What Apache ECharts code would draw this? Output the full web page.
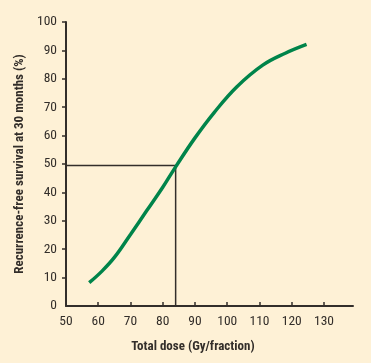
<!DOCTYPE html>
<html><head><meta charset="utf-8">
<script src="https://cdn.jsdelivr.net/npm/echarts@6/dist/echarts.min.js"></script>
<style>html,body{margin:0;padding:0;background:#FEF1D6;}#c{width:371px;height:363px;}</style>
</head><body><div id="c"></div>
<script>
const doseValues = [57.2, 61, 65, 70, 75, 80, 84, 90, 96, 103, 111, 118, 124.6];
const survivalValues = [8.2, 12.1, 17.1, 25.2, 33.5, 41.8, 49, 59.2, 68.2, 77.2, 84.8, 89, 92.1];
const refLineX = [50, 84, 84];
const refLineY = [49.5, 49.5, 0];
const xTickLabels = [50, 60, 70, 80, 90, 100, 110, 120, 130];
const yTickLabels = [0, 10, 20, 30, 40, 50, 60, 70, 80, 90, 100];

const font = '"Roboto Condensed","DejaVu Sans Condensed",sans-serif';
const dark = '#332e2a';
const chart = echarts.init(document.getElementById('c'), null, {renderer: 'canvas'});
chart.setOption({
  backgroundColor: '#FEF1D6',
  animation: false,
  grid: {left: 66, right: 18, top: 22, bottom: 57},
  xAxis: {
    type: 'value', min: 50, max: 139,
    axisLine: {lineStyle: {color: dark, width: 2}},
    axisTick: {inside: true, length: 4, lineStyle: {color: dark, width: 1.5}, customValues: xTickLabels.slice(1)},
    axisLabel: {color: dark, fontFamily: font, fontSize: 13.5, margin: 9, customValues: xTickLabels},
    splitLine: {show: false}
  },
  yAxis: {
    type: 'value', min: 0, max: 100, interval: 10,
    axisLine: {show: true, lineStyle: {color: dark, width: 2}},
    axisTick: {show: true, length: 4, lineStyle: {color: dark, width: 1.5}, customValues: yTickLabels.slice(1)},
    axisLabel: {color: dark, fontFamily: font, fontSize: 13.5, margin: 9, customValues: yTickLabels},
    splitLine: {show: false},
    name: 'Recurrence-free survival at 30 months (%)',
    nameLocation: 'middle', nameGap: 38,
    nameTextStyle: {color: dark, fontFamily: font, fontSize: 13, fontWeight: 'bold'}
  },
  graphic: [{
    type: 'text', x: 193, y: 340,
    style: {text: 'Total dose (Gy/fraction)', fill: dark, font: 'bold 13px ' + font, textAlign: 'center'}
  }],
  series: [
    {type: 'line', data: refLineX.map((x, i) => [x, refLineY[i]]), symbol: 'none',
     lineStyle: {color: dark, width: 1.5}, z: 1},
    {type: 'line', data: doseValues.map((x, i) => [x, survivalValues[i]]), symbol: 'none', smooth: 0.4,
     lineStyle: {color: '#00844A', width: 3.5}, z: 2}
  ]
});
</script></body></html>
